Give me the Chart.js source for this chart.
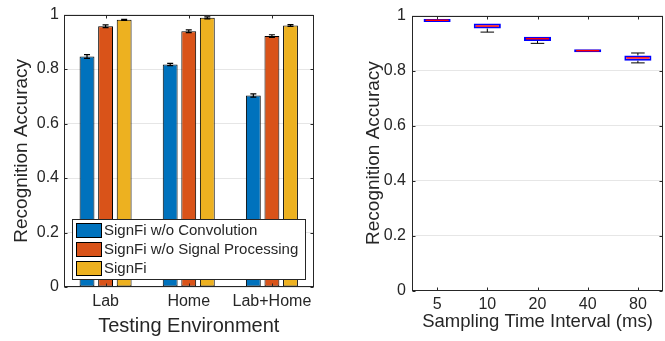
<!DOCTYPE html>
<html><head><meta charset="utf-8">
<script src="https://cdn.jsdelivr.net/npm/chart.js@4.4.0/dist/chart.umd.min.js"></script>
<style>
html,body{margin:0;padding:0;background:#fff;}
#wrap{position:relative;width:665px;height:341px;overflow:hidden;background:#fff;}
#c1wrap{position:absolute;left:0;top:0;width:332px;height:341px;}
#c2wrap{position:absolute;left:332px;top:0;width:333px;height:341px;}
</style></head><body>
<div id="wrap"><div id="c1wrap"><canvas id="c1" width="332" height="341"></canvas></div><div id="c2wrap"><canvas id="c2" width="333" height="341"></canvas></div></div>
<script>
// ---- Left chart data ----
const environments = ['Lab', 'Home', 'Lab+Home'];
const seriesNames = ['SignFi w/o Convolution', 'SignFi w/o Signal Processing', 'SignFi'];
const accNoConv = [0.846, 0.817, 0.703];
const accNoSigProc = [0.957, 0.939, 0.921];
const accSignFi = [0.981, 0.988, 0.960];
const errNoConv = [0.007, 0.004, 0.006];
const errNoSigProc = [0.005, 0.005, 0.005];
const errSignFi = [0.002, 0.004, 0.003];

// ---- Right chart data ----
const intervals = ['5', '10', '20', '40', '80'];
const boxMin = [0.977, 0.940, 0.899, 0.867, 0.828];
const boxQ1 = [0.977, 0.953, 0.908, 0.867, 0.836];
const boxMedian = [0.983, 0.962, 0.916, 0.8725, 0.846];
const boxQ3 = [0.988, 0.971, 0.923, 0.878, 0.855];
const boxMax = [0.988, 0.971, 0.923, 0.878, 0.864];

const FONT = "'Liberation Sans', Arial, Helvetica, sans-serif";
const INK = '#262626';
Chart.defaults.font.family = FONT;
Chart.defaults.color = INK;

const framePlugin = {
  id: 'frame',
  afterDatasetsDraw(chart) {
    const {ctx, chartArea: a, scales: {x, y}} = chart;
    ctx.save();
    ctx.strokeStyle = INK; ctx.lineWidth = 1;
    const L = Math.round(a.left) + 0.5, R = Math.round(a.right) - 0.5;
    const T = Math.round(a.top) + 0.5, B = Math.round(a.bottom) - 0.5;
    ctx.strokeRect(L, T, R - L, B - T);
    const tl = 3;
    ctx.beginPath();
    x.ticks.forEach((t, i) => {
      const px = Math.round(x.getPixelForTick(i)) + 0.5;
      ctx.moveTo(px, B); ctx.lineTo(px, B - tl);
      ctx.moveTo(px, T); ctx.lineTo(px, T + tl);
    });
    y.ticks.forEach((t, i) => {
      const py = Math.round(y.getPixelForTick(i)) + 0.5;
      ctx.moveTo(L, py); ctx.lineTo(L + tl, py);
      ctx.moveTo(R, py); ctx.lineTo(R - tl, py);
    });
    ctx.stroke();
    ctx.restore();
  }
};

const errorBarPlugin = {
  id: 'errorBars',
  afterDatasetsDraw(chart) {
    const {ctx, scales: {y}} = chart;
    ctx.save();
    ctx.strokeStyle = '#000'; ctx.lineWidth = 1.2;
    chart.data.datasets.forEach((ds, di) => {
      const meta = chart.getDatasetMeta(di);
      meta.data.forEach((el, i) => {
        const v = ds.data[i], e = ds.errors[i];
        const yt = y.getPixelForValue(v + e), yb = y.getPixelForValue(v - e);
        const cx = el.x, cw = 3;
        ctx.beginPath();
        ctx.moveTo(cx, yt); ctx.lineTo(cx, yb);
        ctx.moveTo(cx - cw, yt); ctx.lineTo(cx + cw, yt);
        ctx.moveTo(cx - cw, yb); ctx.lineTo(cx + cw, yb);
        ctx.stroke();
      });
    });
    ctx.restore();
  }
};

const legendPlugin = {
  id: 'boxLegend',
  afterDraw(chart) {
    const {ctx} = chart;
    const bx = 72.5, by = 219.5, bw = 233, bh = 60;
    ctx.save();
    ctx.fillStyle = '#fff';
    ctx.fillRect(bx, by, bw, bh);
    ctx.strokeStyle = INK; ctx.lineWidth = 1;
    ctx.strokeRect(bx, by, bw, bh);
    ctx.font = '15px ' + FONT;
    ctx.textBaseline = 'middle';
    ctx.textAlign = 'left';
    chart.data.datasets.forEach((ds, i) => {
      const sy = 223 + i * 19;
      ctx.fillStyle = ds.backgroundColor;
      ctx.fillRect(76, sy, 26, 15);
      ctx.strokeStyle = '#000';
      ctx.strokeRect(76.5, sy + 0.5, 25, 14);
      ctx.fillStyle = INK;
      ctx.fillText(ds.label, 104, sy + 8);
    });
    ctx.restore();
  }
};

const boxPlugin = {
  id: 'boxDetails',
  afterDatasetsDraw(chart) {
    const {ctx, scales: {y}} = chart;
    const meta = chart.getDatasetMeta(0);
    ctx.save();
    meta.data.forEach((el, i) => {
      const cx = el.x, hw = el.width / 2, cap = el.width / 4;
      const yMax = y.getPixelForValue(boxMax[i]), yQ3 = y.getPixelForValue(boxQ3[i]);
      const yMin = y.getPixelForValue(boxMin[i]), yQ1 = y.getPixelForValue(boxQ1[i]);
      const yMed = y.getPixelForValue(boxMedian[i]);
      ctx.strokeStyle = '#000'; ctx.lineWidth = 1;
      ctx.beginPath();
      if (yMax < yQ3 - 1) {
        ctx.moveTo(cx, yQ3); ctx.lineTo(cx, yMax);
        ctx.moveTo(cx - cap, yMax); ctx.lineTo(cx + cap, yMax);
      }
      if (yMin > yQ1 + 1) {
        ctx.moveTo(cx, yQ1); ctx.lineTo(cx, yMin);
        ctx.moveTo(cx - cap, yMin); ctx.lineTo(cx + cap, yMin);
      }
      ctx.stroke();
      ctx.strokeStyle = '#ff0000'; ctx.lineWidth = 1.5;
      ctx.beginPath();
      ctx.moveTo(cx - hw + 2, yMed); ctx.lineTo(cx + hw - 2, yMed);
      ctx.stroke();
    });
    ctx.restore();
  }
};

const yTickCb = v => String(Number(v.toFixed(1)));

new Chart(document.getElementById('c1'), {
  type: 'bar',
  data: {
    labels: environments,
    datasets: [
      {label: seriesNames[0], data: accNoConv, errors: errNoConv, backgroundColor: '#0072BD'},
      {label: seriesNames[1], data: accNoSigProc, errors: errNoSigProc, backgroundColor: '#D95319'},
      {label: seriesNames[2], data: accSignFi, errors: errSignFi, backgroundColor: '#EDB120'}
    ]
  },
  options: {
    responsive: false, animation: false, devicePixelRatio: 1,
    layout: {padding: {left: 0, right: 18.5, top: 11, bottom: 0}},
    datasets: {bar: {borderColor: '#000', borderWidth: 1, borderSkipped: false, categoryPercentage: 0.67, barPercentage: 0.8}},
    plugins: {legend: {display: false}, tooltip: {enabled: false}},
    scales: {
      x: {
        grid: {display: false, drawTicks: false}, border: {display: false},
        ticks: {font: {size: 16}, padding: 5, color: INK, maxRotation: 0},
        title: {display: true, text: 'Testing Environment', font: {size: 20}, color: INK, padding: {top: 0, bottom: 3}},
        afterFit(s) { s.height = 54; }
      },
      y: {
        min: 0, max: 1,
        grid: {color: '#e6e6e6', drawTicks: false}, border: {display: false},
        ticks: {stepSize: 0.2, font: {size: 16}, padding: 5, color: INK, callback: yTickCb},
        title: {display: true, text: 'Recognition Accuracy', font: {size: 19}, color: INK, padding: {top: 10, bottom: 0}},
        afterFit(s) { s.width = 64; }
      }
    }
  },
  plugins: [framePlugin, errorBarPlugin, legendPlugin]
});

new Chart(document.getElementById('c2'), {
  type: 'bar',
  data: {
    labels: intervals,
    datasets: [
      {label: 'Accuracy', data: boxQ1.map((q, i) => [q, boxQ3[i]]), backgroundColor: '#ffffff', borderColor: '#0000ff', borderWidth: 2, borderSkipped: false, categoryPercentage: 1, barPercentage: 0.54}
    ]
  },
  options: {
    responsive: false, animation: false, devicePixelRatio: 1,
    layout: {padding: {left: 0, right: 2, top: 12, bottom: 0}},
    plugins: {legend: {display: false}, tooltip: {enabled: false}},
    scales: {
      x: {
        grid: {display: false, drawTicks: false}, border: {display: false},
        ticks: {font: {size: 16}, padding: 4, color: INK, maxRotation: 0},
        title: {display: true, text: 'Sampling Time Interval (ms)', font: {size: 18.5}, color: INK, padding: {top: 0, bottom: 8}},
        afterFit(s) { s.height = 50.5; }
      },
      y: {
        min: 0, max: 1,
        grid: {color: '#e6e6e6', drawTicks: false}, border: {display: false},
        ticks: {stepSize: 0.2, font: {size: 16}, padding: 6, color: INK, callback: yTickCb},
        title: {display: true, text: 'Recognition Accuracy', font: {size: 19}, color: INK, padding: {top: 30, bottom: 0}},
        afterFit(s) { s.width = 80; }
      }
    }
  },
  plugins: [framePlugin, boxPlugin]
});
</script>
</body></html>
